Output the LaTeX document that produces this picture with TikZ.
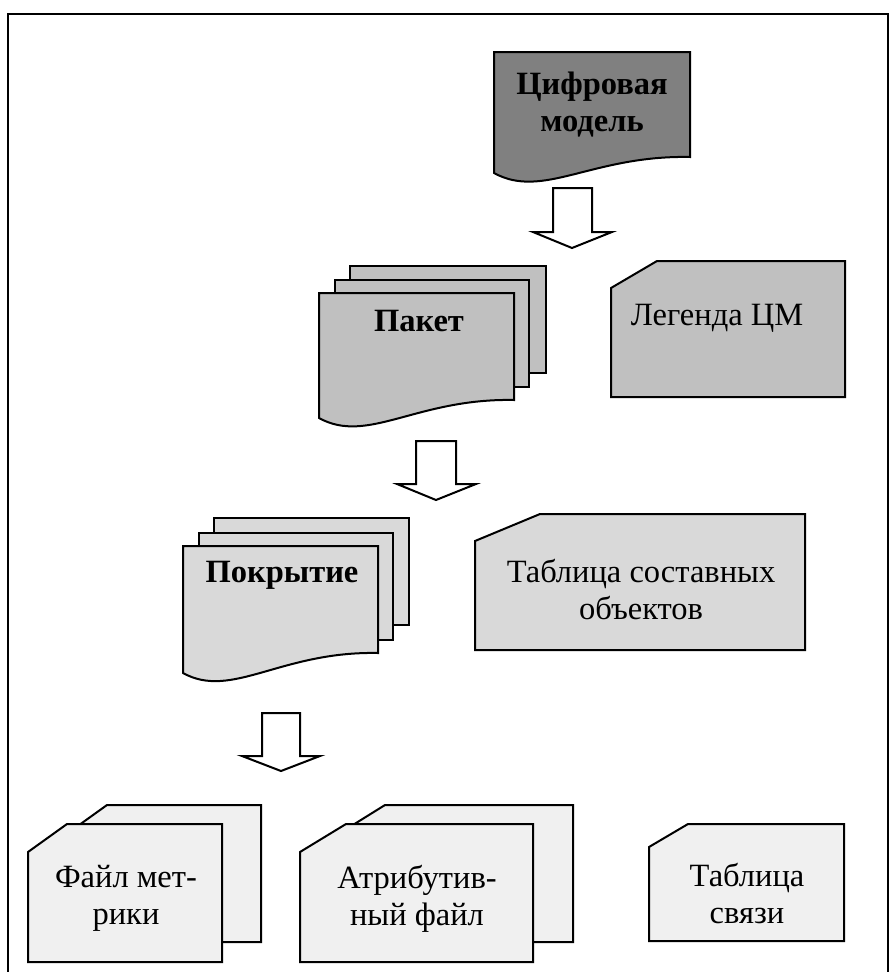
\documentclass[tikz,border=0pt]{standalone}
\usepackage{fontspec}
\setmainfont{Liberation Serif}
\definecolor{gA}{gray}{0.50}
\definecolor{gB}{gray}{0.753}
\definecolor{gC}{gray}{0.85}
\definecolor{gD}{gray}{0.94}
% document shape: fill, L, T, R, Bright, Bleft
\newcommand\docshape[6]{%
  \filldraw[shp, fill=#1] (#2,#3) -- (#4,#3) -- (#4,#5)
    .. controls ({#4-0.5*(#4-#2)},{#5-2}) and ({#2+0.25*(#4-#2)},{#6+27}) .. (#2,#6) -- cycle;}
% plain page: fill, L, T, R, B
\newcommand\pageshape[5]{%
  \filldraw[shp, fill=#1] (#2,#3) rectangle (#4,#5);}
% cut-corner card: fill, L, T, R, B, cx, cy
\newcommand\cutcard[7]{%
  \filldraw[shp, fill=#1] ({#2+#6},#3) -- (#4,#3) -- (#4,#5) -- (#2,#5) -- (#2,{#3+#7}) -- cycle;}
% block arrow: shaftL, shaftR, top, shaftB, headL, headR, tipY, tipX
\newcommand\blockarrow[8]{%
  \filldraw[shp, fill=white] (#1,#3) -- (#2,#3) -- (#2,#4) -- (#6,#4) -- (#8,#7) -- (#5,#4) -- (#1,#4) -- cycle;}
\begin{document}
\begin{tikzpicture}[x=1pt,y=-1pt,line join=miter,
  shp/.style={draw=black, line width=2pt},
  lbl/.style={font=\fontsize{32.5}{37}\selectfont, align=center, inner sep=0pt},
  blbl/.style={font=\fontsize{32.5}{37}\selectfont\bfseries, align=center, inner sep=0pt}]
\useasboundingbox (0,0) rectangle (890,972);
% frame
\draw[line width=2pt] (8,975) -- (8,14) -- (888,14) -- (888,975);

% Цифровая модель
\docshape{gA}{494}{52}{690}{157}{173}
\node[blbl] (cm) at (592,105) {Цифровая\\модель};
\blockarrow{553}{592}{188}{232}{533}{612}{248}{572}

% Пакет
\pageshape{gB}{350}{266}{546}{373}
\pageshape{gB}{335}{280}{529}{387}
\docshape{gB}{319}{293}{514}{400}{418}
\node[blbl] (pak) at (419,321) {Пакет};

% Легенда ЦМ
\cutcard{gB}{611}{261}{845}{397}{46}{27}
\node[lbl] (leg) at (717,318) {Легенда ЦМ};

\blockarrow{416}{456}{441}{484}{397}{476}{500}{436}

% Покрытие
\pageshape{gC}{214}{518}{409}{625}
\pageshape{gC}{199}{533}{393}{640}
\docshape{gC}{183}{546}{378}{653}{673}
\node[blbl] (pok) at (282,575) {Покрытие};

% Таблица составных объектов
\cutcard{gC}{475}{514}{805}{650}{65}{27}
\node[lbl] (tso) at (641,590) {Таблица составных\\объектов};

\blockarrow{262}{300}{713}{756}{242}{320}{771}{281}

% Файл метрики
\cutcard{gD}{68}{805}{261}{942}{39}{28}
\cutcard{gD}{28}{824}{222}{962}{39}{28}
\node[lbl] (fm) at (126,898) {Файл мет-\\рики};

% Атрибутивный файл
\cutcard{gD}{340}{805}{573}{942}{45}{28}
\cutcard{gD}{300}{824}{533}{962}{46}{28}
\node[lbl] (af) at (417,899) {Атрибутив-\\ный файл};

% Таблица связи
\cutcard{gD}{649}{824}{844}{941}{39}{23}
\node[lbl] (ts) at (747,894) {Таблица\\связи};
\end{tikzpicture}
\end{document}
